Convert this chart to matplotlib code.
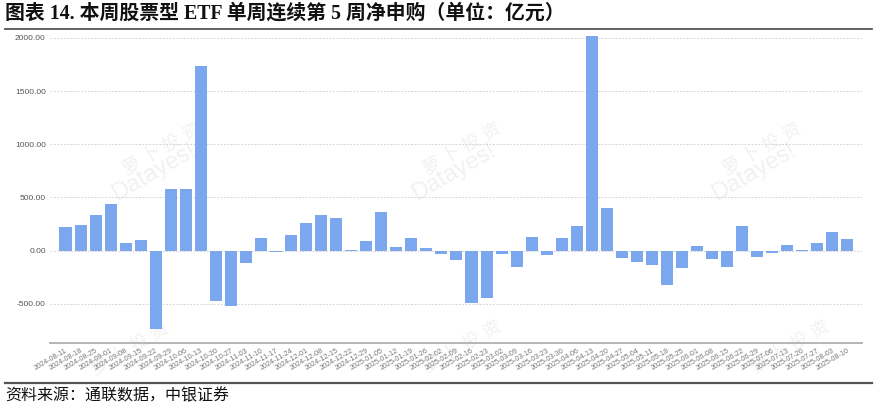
import matplotlib
matplotlib.use("Agg")
import matplotlib.pyplot as plt
from matplotlib.lines import Line2D

# weekly net subscription of equity ETFs (100m CNY)
dates = [
    "2024-08-11", "2024-08-18", "2024-08-25", "2024-09-01", "2024-09-08",
    "2024-09-15", "2024-09-22", "2024-09-29", "2024-10-06", "2024-10-13",
    "2024-10-20", "2024-10-27", "2024-11-03", "2024-11-10", "2024-11-17",
    "2024-11-24", "2024-12-01", "2024-12-08", "2024-12-15", "2024-12-22",
    "2024-12-29", "2025-01-05", "2025-01-12", "2025-01-19", "2025-01-26",
    "2025-02-02", "2025-02-09", "2025-02-16", "2025-02-23", "2025-03-02",
    "2025-03-09", "2025-03-16", "2025-03-23", "2025-03-30", "2025-04-06",
    "2025-04-13", "2025-04-20", "2025-04-27", "2025-05-04", "2025-05-11",
    "2025-05-18", "2025-05-25", "2025-06-01", "2025-06-08", "2025-06-15",
    "2025-06-22", "2025-06-29", "2025-07-06", "2025-07-13", "2025-07-20",
    "2025-07-27", "2025-08-03", "2025-08-10",
]
net_flow = [
    220, 245, 335, 436, 75, 100, -735, 577, 577, 1736,
    -478, -525, -118, 117, -15, 148, 258, 336, 305, 3,
    91, 361, 35, 117, 25, -35, -90, -495, -447, -35,
    -156, 131, -40, 122, 235, 2030, 398, -72, -110, -135,
    -322, -166, 44, -78, -150, 232, -56, -25, 53, 2,
    75, 178, 110,
]
yticks = [-500, 0, 500, 1000, 1500, 2000]

title = "图表 14. 本周股票型 ETF 单周连续第 5 周净申购（单位：亿元）"
source = "资料来源：通联数据，中银证券"

sans = ["Liberation Sans", "Noto Sans CJK SC"]
serif = ["Liberation Serif", "Noto Sans CJK SC"]

fig = plt.figure(figsize=(8.8, 4.08), dpi=100)
ax = fig.add_axes([50 / 880, 1 - 343 / 408, 812 / 880, (343 - 36.2) / 408])
ax.patch.set_alpha(0)

x = list(range(len(dates)))
ax.bar(x, net_flow, width=0.8, color="#7ba7ee", zorder=3)

ax.set_xlim(-1.03, len(dates) - 0.03)
ax.set_ylim(-868, 2015)
ax.set_yticks(yticks)
ax.set_yticklabels(["%.2f" % v for v in yticks], fontsize=6, color="#555555", family=sans)
for v in yticks:
    ax.axhline(v, color="#d6d6d6", lw=0.7, ls=(0, (2, 1.5)), zorder=1)

ax.set_xticks(x)
ax.set_xticklabels(dates, rotation=30, ha="right", rotation_mode="anchor",
                   fontsize=5.2, color="#777777", family=sans)
ax.tick_params(axis="x", length=0, pad=3)
ax.tick_params(axis="y", length=0, pad=3)

for side in ["top", "right", "left"]:
    ax.spines[side].set_visible(False)
ax.spines["bottom"].set_color("#b5b5b5")
ax.spines["bottom"].set_linewidth(1.4)

# faint watermarks behind the bars
for wx, wy in [(162, 150), (462, 150), (762, 150)]:
    ax.text(wx / 880, 1 - wy / 408, "萝 卜 投 资", family=sans, fontsize=13,
            color="#f1f1f1", rotation=30, ha="center", va="center", zorder=0.5,
            transform=fig.transFigure)
    ax.text((wx - 8) / 880, 1 - (wy + 22) / 408, "Datayes!", family=sans, fontsize=17,
            color="#f1f1f1", rotation=30, ha="center", va="center", zorder=0.5,
            transform=fig.transFigure)
for wx, wy in [(130, 350), (462, 348), (790, 348)]:
    ax.text(wx / 880, 1 - wy / 408, "萝 卜 投 资", family=sans, fontsize=13,
            color="#f1f1f1", rotation=30, ha="center", va="center", zorder=0.5,
            transform=fig.transFigure)

fig.text(5 / 880, 1 - 14 / 408, title, family=serif, fontsize=14.3, fontweight="bold",
         ha="left", va="center", color="#111111")
fig.add_artist(Line2D([5 / 880, 872 / 880], [1 - 29 / 408] * 2, color="#555555", lw=1.3))
fig.add_artist(Line2D([5 / 880, 872 / 880], [1 - 383 / 408] * 2, color="#555555", lw=1.6))
fig.text(5 / 880, 1 - 396 / 408, source, family=sans, fontsize=11.5,
         ha="left", va="center", color="#111111")

fig.savefig("out.png", dpi=100)
